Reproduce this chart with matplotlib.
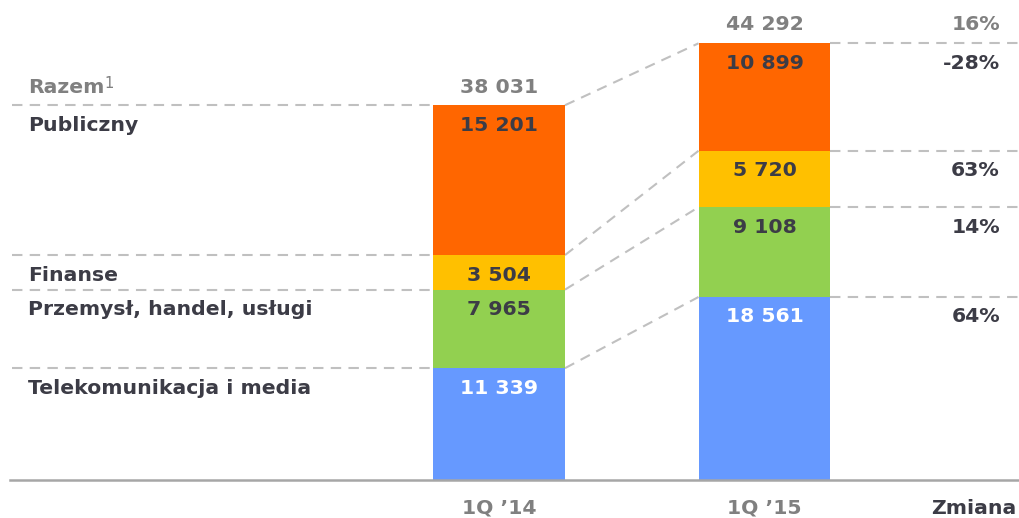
import numpy as np
import matplotlib.pyplot as plt

periods = ["1Q \u201914", "1Q \u201915"]
segments = ["Telekomunikacja i media", "Przemysł, handel, usługi", "Finanse", "Publiczny"]
values_14 = [11339, 7965, 3504, 15201]
values_15 = [18561, 9108, 5720, 10899]
totals = [38031, 44292]
changes = ["64%", "14%", "63%", "-28%"]
total_change = "16%"
colors = ["#6699FF", "#92D050", "#FFC000", "#FF6600"]

dark = "#3C3C46"
gray = "#808080"
line_gray = "#C0C0C0"


def fmt(v):
    return f"{v:,}".replace(",", " ")


plt.rcParams['font.family'] = ['DejaVu Sans']
fig = plt.figure(figsize=(10.19, 5.18), dpi=100)
ax = fig.add_axes([0, 0, 1, 1])
ax.set_axis_off()

# map: bar centers at px 499 / 764.5, baseline at px 480, 38031 -> px 105
px_per_x = 265.5
x0 = 499
ax.set_xlim((0 - x0) / px_per_x, (1019 - x0) / px_per_x)
u_per_px = 38031 / 375
ax.set_ylim(-(518 - 480) * u_per_px, 480 * u_per_px)

x = np.arange(2)
width = 0.497
data = np.array([values_14, values_15])
bottoms = np.zeros(2)
for i in range(4):
    ax.bar(x, data[:, i], width, bottom=bottoms, color=colors[i], zorder=2)
    bottoms += data[:, i]

cum14 = np.cumsum(values_14)
cum15 = np.cumsum(values_15)
off = 20 * u_per_px  # label offset below segment top

tr = ax.get_yaxis_transform()
left_edge = 0 - width / 2
right_edge = 1 + width / 2
xmin, xmax = ax.get_xlim()
dash = dict(color=line_gray, lw=1.5, ls=(0, (5, 3.5)), zorder=1)

# baseline
ax.plot([xmin + 10 / px_per_x, xmax], [0, 0], color="#A6A6A6", lw=1.8, zorder=3)

for c in cum14:
    ax.plot([xmin + 12 / px_per_x, left_edge], [c, c], **dash)
for c in cum15:
    ax.plot([right_edge, xmax], [c, c], **dash)
for c1, c2 in zip(cum14, cum15):
    ax.plot([width / 2, 1 - width / 2], [c1, c2], **dash)

fs = 14.7
lx = 28 / 1019
rx = 1000 / 1019
for i in range(4):
    ax.text(lx, cum14[i] - off, segments[i], transform=tr, ha="left", va="center",
            fontsize=fs, fontweight="bold", color=dark)
    tc = "white" if i == 0 else dark
    ax.text(0, cum14[i] - off, fmt(values_14[i]), ha="center", va="center",
            fontsize=fs, fontweight="bold", color=tc, zorder=4)
    ax.text(1, cum15[i] - off, fmt(values_15[i]), ha="center", va="center",
            fontsize=fs, fontweight="bold", color=tc, zorder=4)
    ax.text(rx, cum15[i] - off, changes[i], transform=tr, ha="right", va="center",
            fontsize=fs, fontweight="bold", color=dark)

ax.text(lx, cum14[-1] + 18 * u_per_px, "Razem", transform=tr, ha="left", va="center",
        fontsize=fs, fontweight="bold", color=gray)
ax.annotate("1", xy=(lx, cum14[-1] + 18 * u_per_px), xycoords=tr,
            xytext=(76, 4), textcoords="offset pixels", ha="left", va="center",
            fontsize=fs * 0.72, color=gray)
ax.text(0, cum14[-1] + 18 * u_per_px, fmt(totals[0]), ha="center", va="center",
        fontsize=fs, fontweight="bold", color=gray)
ax.text(1, cum15[-1] + 19 * u_per_px, fmt(totals[1]), ha="center", va="center",
        fontsize=fs, fontweight="bold", color=gray)
ax.text(rx, cum15[-1] + 19 * u_per_px, total_change, transform=tr, ha="right", va="center",
        fontsize=fs, fontweight="bold", color=gray)

for xi, p in zip(x, periods):
    ax.text(xi, -28 * u_per_px, p, ha="center", va="center",
            fontsize=fs, fontweight="bold", color=gray)
ax.text(1016 / 1019, -28 * u_per_px, "Zmiana", transform=tr, ha="right", va="center",
        fontsize=fs, fontweight="bold", color=dark)

fig.savefig("out.png", dpi=100)
